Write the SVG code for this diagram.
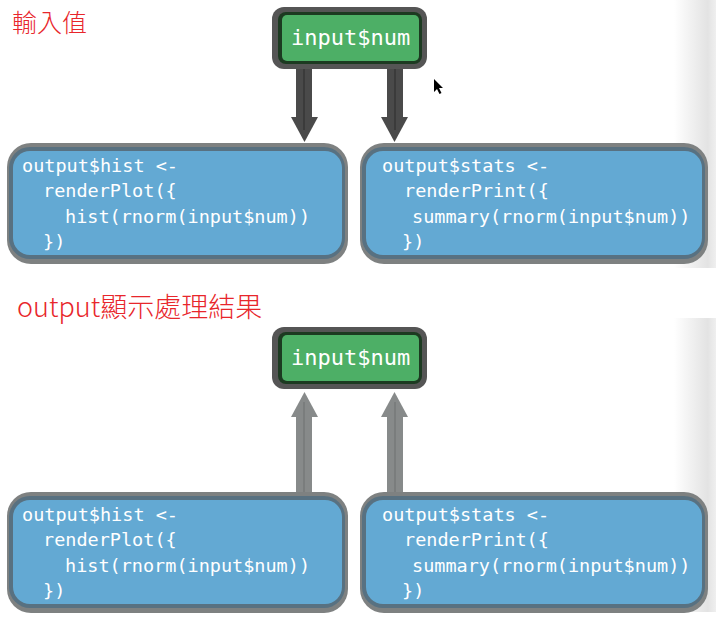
<svg xmlns="http://www.w3.org/2000/svg" width="716" height="622" viewBox="0 0 716 622">
<defs>
<linearGradient id="edge" x1="0" y1="0" x2="1" y2="0">
<stop offset="0" stop-color="#ffffff"/>
<stop offset="0.8" stop-color="#e3e3e3"/>
<stop offset="1" stop-color="#efefef"/>
</linearGradient>
<style>
.title{font-family:"Noto Sans CJK TC","Noto Sans",sans-serif;fill:#e8262b;font-weight:300;}
.code{font-family:"DejaVu Sans Mono","Liberation Mono",monospace;font-size:18.5px;fill:#ffffff;}
.in{font-family:"DejaVu Sans Mono","Liberation Mono",monospace;font-size:22px;fill:#ffffff;}
.bo{fill:#7e8181;}
.bd{fill:#587181;}
.bf{fill:#63a9d3;}
.go{fill:#555555;}
.gd{fill:#1c3a21;}
.gf{fill:#4daf66;}
.adark{fill:#4a4a4a;}
.adarkc{fill:#3b3b3b;}
.agrey{fill:#878a8a;}
.agreyc{fill:#7a7d7d;}
</style>
</defs>
<rect width="716" height="622" fill="#ffffff"/>
<rect x="674" y="0" width="42" height="268" fill="url(#edge)"/>
<rect x="674" y="318" width="42" height="294" fill="url(#edge)"/>

<text class="title" x="12" y="32" font-size="25">輸入值</text>
<text class="title" x="17" y="317" font-size="27">output顯示處理結果</text>

<g id="connectors">
<rect class="adark" x="296" y="68" width="16" height="50"/>
<polygon class="adark" points="291,117 318,117 304.5,142"/>
<rect class="adarkc" x="303" y="68" width="2" height="62"/>
<rect class="adark" x="387" y="68" width="16" height="50"/>
<polygon class="adark" points="381,117 408,117 394.5,142"/>
<rect class="adarkc" x="394" y="68" width="2" height="62"/>
<rect class="agrey" x="296" y="415" width="16" height="79"/>
<polygon class="agrey" points="291,417 318,417 304.5,392"/>
<rect class="agreyc" x="303" y="402" width="2" height="92"/>
<rect class="agrey" x="387" y="415" width="16" height="79"/>
<polygon class="agrey" points="381,417 408,417 394.5,392"/>
<rect class="agreyc" x="394" y="402" width="2" height="92"/>
</g>

<g id="input-top">
<rect class="go" x="272" y="7" width="155" height="62" rx="12"/>
<rect class="gd" x="278" y="12" width="144" height="52" rx="8"/>
<rect class="gf" x="282" y="15" width="137" height="46" rx="5"/>
<text class="in" x="291" y="45">input$num</text>
</g>

<g id="hist-top">
<rect class="bo" x="7" y="143" width="341" height="121" rx="24"/>
<rect class="bd" x="9" y="147" width="336" height="112" rx="21"/>
<rect class="bf" x="13" y="151" width="329" height="104" rx="17"/>
<text class="code" x="22" y="172">output$hist &lt;-</text>
<text class="code" x="43" y="197">renderPlot({</text>
<text class="code" x="65" y="223">hist(rnorm(input$num))</text>
<text class="code" x="43" y="248">})</text>
</g>

<g id="stats-top">
<rect class="bo" x="360" y="143" width="348" height="121" rx="24"/>
<rect class="bd" x="362" y="147" width="343" height="112" rx="21"/>
<rect class="bf" x="366" y="151" width="336" height="104" rx="17"/>
<text class="code" x="382" y="172">output$stats &lt;-</text>
<text class="code" x="404" y="197">renderPrint({</text>
<text class="code" x="412" y="223">summary(rnorm(input$num))</text>
<text class="code" x="402" y="248">})</text>
</g>

<g id="input-bottom">
<rect class="go" x="272" y="327" width="155" height="62" rx="12"/>
<rect class="gd" x="278" y="332" width="144" height="52" rx="8"/>
<rect class="gf" x="282" y="335" width="137" height="46" rx="5"/>
<text class="in" x="291" y="365">input$num</text>
</g>

<g id="hist-bottom">
<rect class="bo" x="7" y="492" width="341" height="121" rx="24"/>
<rect class="bd" x="9" y="496" width="336" height="112" rx="21"/>
<rect class="bf" x="13" y="500" width="329" height="104" rx="17"/>
<text class="code" x="22" y="521">output$hist &lt;-</text>
<text class="code" x="43" y="546">renderPlot({</text>
<text class="code" x="65" y="572">hist(rnorm(input$num))</text>
<text class="code" x="43" y="597">})</text>
</g>

<g id="stats-bottom">
<rect class="bo" x="360" y="492" width="348" height="121" rx="24"/>
<rect class="bd" x="362" y="496" width="343" height="112" rx="21"/>
<rect class="bf" x="366" y="500" width="336" height="104" rx="17"/>
<text class="code" x="382" y="521">output$stats &lt;-</text>
<text class="code" x="404" y="546">renderPrint({</text>
<text class="code" x="412" y="572">summary(rnorm(input$num))</text>
<text class="code" x="402" y="597">})</text>
</g>

<polygon points="434,79 434,92 437,89 439.5,94 441.5,93 439,88 443,88" fill="#000000"/>
</svg>
